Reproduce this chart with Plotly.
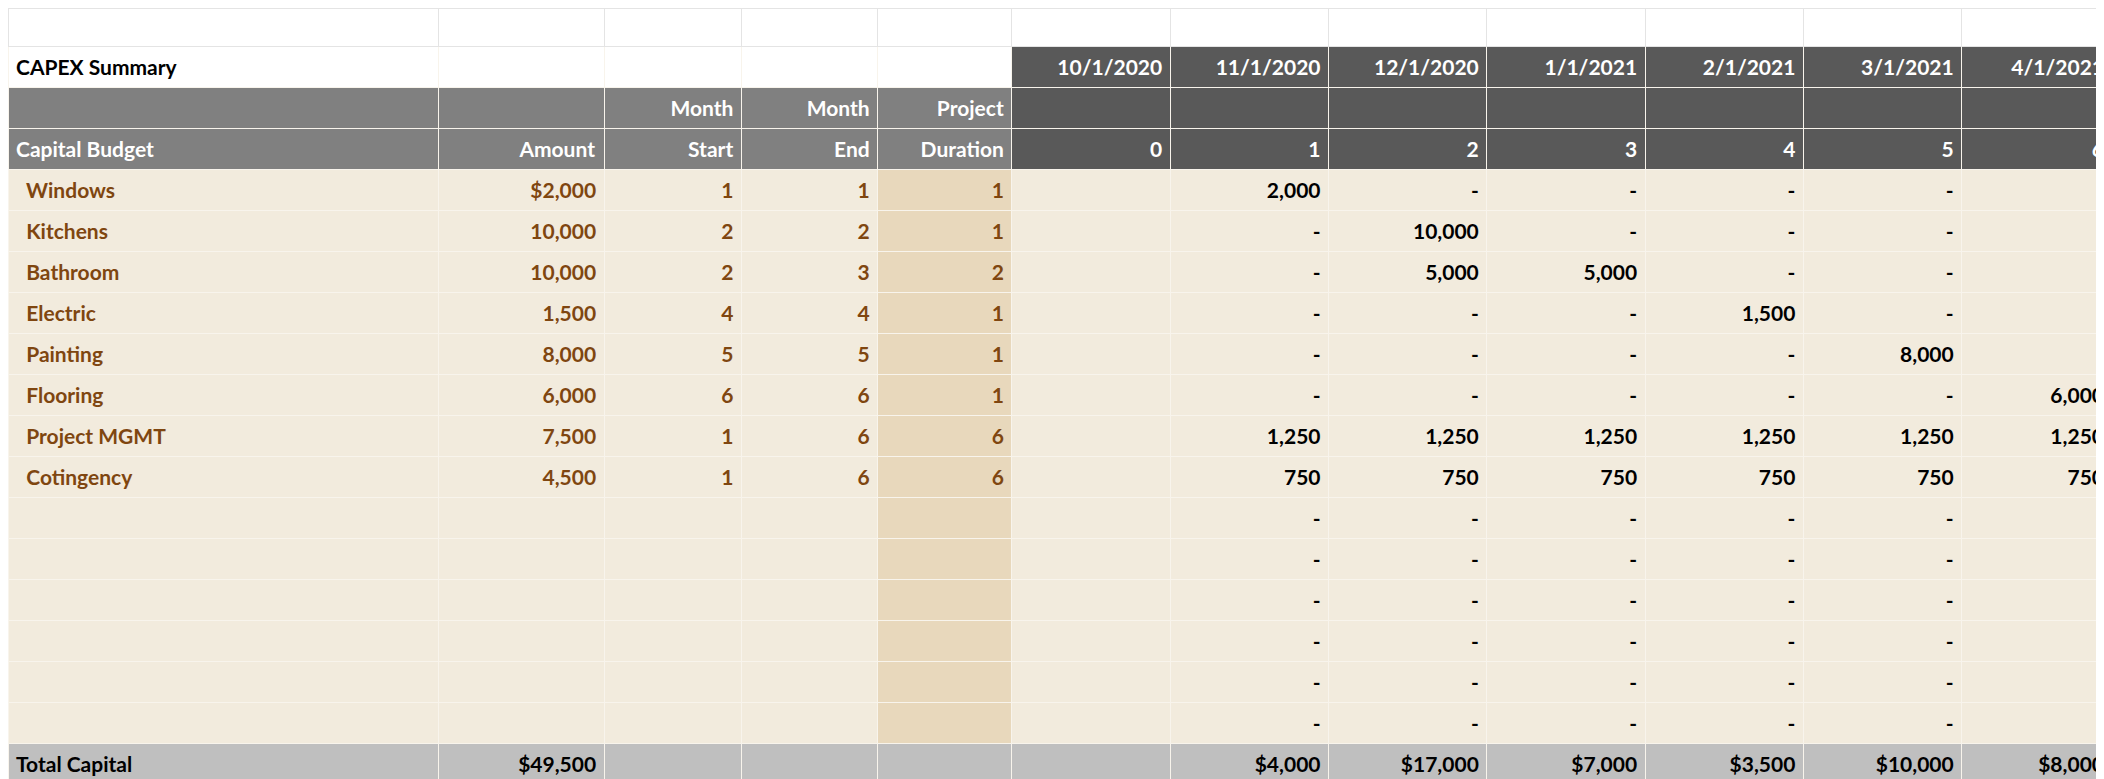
import plotly.graph_objects as go

# data
dates = ["10/1/2020", "11/1/2020", "12/1/2020", "1/1/2021", "2/1/2021", "3/1/2021", "4/1/2021"]
month_idx = [0, 1, 2, 3, 4, 5, 6]
items = ["Windows", "Kitchens", "Bathroom", "Electric", "Painting", "Flooring", "Project MGMT", "Cotingency"]
amounts = ["$2,000", "10,000", "10,000", "1,500", "8,000", "6,000", "7,500", "4,500"]
month_start = [1, 2, 2, 4, 5, 6, 1, 1]
month_end = [1, 2, 3, 4, 5, 6, 6, 6]
duration = [1, 1, 2, 1, 1, 1, 6, 6]
# monthly spend, months 1..6
monthly = [
    [2000, 0, 0, 0, 0, 0],
    [0, 10000, 0, 0, 0, 0],
    [0, 5000, 5000, 0, 0, 0],
    [0, 0, 0, 1500, 0, 0],
    [0, 0, 0, 0, 8000, 0],
    [0, 0, 0, 0, 0, 6000],
    [1250, 1250, 1250, 1250, 1250, 1250],
    [750, 750, 750, 750, 750, 750],
]
n_blank_rows = 6
total_capital = "$49,500"
month_totals = ["$4,000", "$17,000", "$7,000", "$3,500", "$10,000", "$8,000"]
allocation = ["8.08%", "34.34%", "14.14%", "7.07%", "20.20%", "16.16%"]

WHITE = "#ffffff"
DARK = "#595959"
MID = "#808080"
BEIGE = "#f2ebdd"
TAN = "#e8d8bc"
GREY = "#bfbfbf"
BROWN = "#7f4610"
NB = "\u00a0\u00a0"

rows = []  # (values, fills, fonts)


def b(v):
    return "<b>%s</b>" % v if v != "" else ""


def fmt(v):
    return "-" if v == 0 else "{:,}".format(v)


# CAPEX summary row
rows.append(([b("CAPEX Summary"), "", "", "", ""] + [b(d) for d in dates],
             [WHITE] * 5 + [DARK] * 7, ["black"] * 5 + ["white"] * 7))
# header rows
rows.append((["", "", b("Month"), b("Month"), b("Project")] + [""] * 7,
             [MID] * 5 + [DARK] * 7, ["white"] * 12))
rows.append(([b("Capital Budget"), b("Amount"), b("Start"), b("End"), b("Duration")] + [b(m) for m in month_idx],
             [MID] * 5 + [DARK] * 7, ["white"] * 12))
# item rows
for i, name in enumerate(items):
    vals = [b(NB + name), b(amounts[i]), b(month_start[i]), b(month_end[i]), b(duration[i]), ""]
    vals += [b(fmt(v)) for v in monthly[i]]
    rows.append((vals, [BEIGE] * 4 + [TAN] + [BEIGE] * 7, [BROWN] * 5 + ["black"] * 7))
for _ in range(n_blank_rows):
    rows.append(([""] * 6 + [b("-")] * 6, [BEIGE] * 4 + [TAN] + [BEIGE] * 7, ["black"] * 12))
rows.append(([b("Total Capital"), b(total_capital), "", "", "", ""] + [b(t) for t in month_totals],
             [GREY] * 12, ["black"] * 12))
rows.append(([b("Allocation"), "", "", "", "", ""] + [b(a) for a in allocation],
             [GREY] * 12, ["black"] * 12))

ncol = 12
values = [[r[0][c] for r in rows] for c in range(ncol)]
fills = [[r[1][c] for r in rows] for c in range(ncol)]
fonts = [[r[2][c] for r in rows] for c in range(ncol)]

fig = go.Figure(go.Table(
    columnwidth=[430, 165, 137, 136, 134, 158, 158, 158, 158, 158, 158, 150],
    header=dict(values=[""] * ncol, fill_color=WHITE, line_color="#e4e4e4", height=38,
                font=dict(size=12)),
    cells=dict(
        values=values,
        fill_color=fills,
        font=dict(family="Lato", size=21, color=fonts),
        align=["left"] + ["right"] * 11,
        line_color="#f8f4ec",
        height=38,
    ),
    domain=dict(x=[0, 1], y=[0, 1]),
))

fig.update_layout(width=2104, height=779, margin=dict(l=0, r=0, t=0, b=0),
                  paper_bgcolor="white")

fig.write_html("out.html")
